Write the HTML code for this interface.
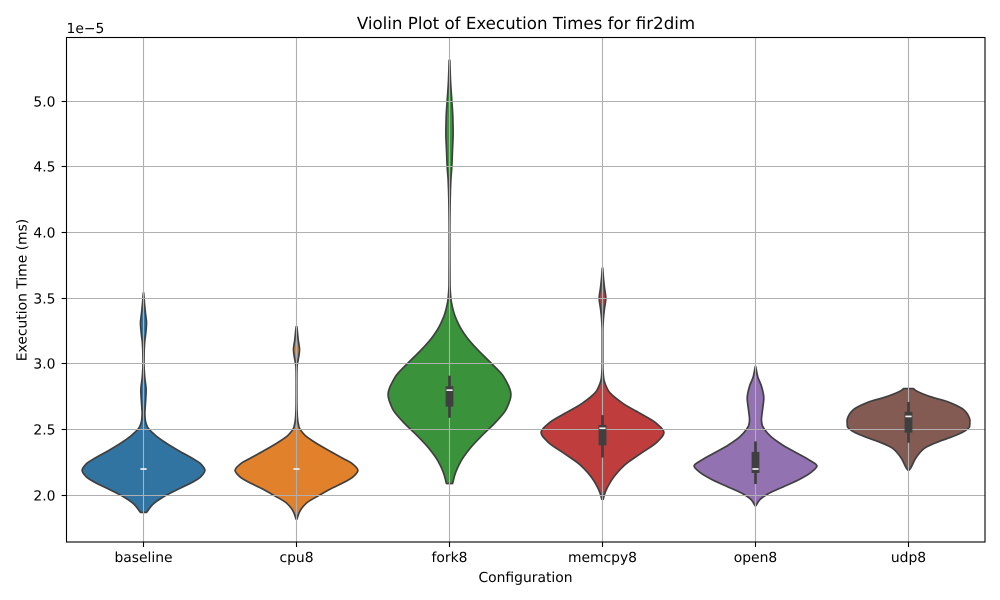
<!DOCTYPE html>
<html lang="en">
<head>
<meta charset="utf-8">
<title>Violin Plot of Execution Times for fir2dim</title>
<style>
html,body{margin:0;padding:0;background:#fff;}
svg{display:block;}
text{font-family:"DejaVu Sans","Liberation Sans",sans-serif;fill:#000;text-rendering:geometricPrecision;}
</style>
</head>
<body>
<svg id="chart" width="1000" height="600" viewBox="0 0 1000 600" xmlns="http://www.w3.org/2000/svg">
  <rect x="0" y="0" width="1000" height="600" fill="#ffffff"></rect>
  <g id="violins"></g>
  <g id="grid"></g>
  <g id="boxes"></g>
  <rect x="66.5" y="37.5" width="918.5" height="504.5" fill="none" stroke="#000" stroke-width="1.1"></rect>
  <g id="ticks"></g>
  <text x="526" y="29" font-size="16.67" text-anchor="middle">Violin Plot of Execution Times for fir2dim</text>
  <text x="525.5" y="582" font-size="13.89" text-anchor="middle">Configuration</text>
  <text transform="translate(26.5,290) rotate(-90)" font-size="13.89" text-anchor="middle">Execution Time (ms)</text>
  <text x="66.5" y="33" font-size="13.89">1e−5</text>
</svg>
<script>
const categories = ['baseline', 'cpu8', 'fork8', 'memcpy8', 'open8', 'udp8'];
const yTickValues = [2.0, 2.5, 3.0, 3.5, 4.0, 4.5, 5.0];
const yTickLabels = ['2.0', '2.5', '3.0', '3.5', '4.0', '4.5', '5.0'];
const colors = ['#3274a1', '#e1812c', '#3a923a', '#c03d3e', '#9372b2', '#845b53'];

// Execution time levels (x 1e-5 ms), top to bottom, and relative density (% of widest point)
const baselineTimes = [3.54,3.46,3.386,3.31,3.23,3.16,3.08,3.0,2.9,2.8,2.7,2.62,2.57,2.52,2.46,2.4,2.34,2.28,2.24,2.19,2.14,2.1,2.05,1.99,1.93,1.87];
const baselineDensity = [0.3,1.6,3.2,4.9,3.6,1.8,1,0.8,2,4.3,3.2,2.2,3,6.5,18.5,36,57,80,93,100,93,80,58,33,15,5];
const cpu8Times = [3.284,3.26,3.18,3.107,3.03,2.98,2.88,2.7,2.6,2.52,2.46,2.4,2.34,2.28,2.24,2.19,2.14,2.1,2.05,2.0,1.94,1.875,1.817];
const cpu8Density = [0.5,1.1,2.9,4.9,2.7,0.9,0.5,0.6,1.3,4,13,31,53,76,91,100,92,78,56,37,16,5,0.5];
const fork8Times = [5.31,5.16,5.0,4.88,4.754,4.63,4.5,4.4,4.25,4.0,3.6,3.5,3.4,3.3,3.2,3.1,3.0,2.9,2.764,2.66,2.56,2.46,2.36,2.26,2.16,2.09];
const fork8Density = [0.5,1.6,3.8,5.4,5.9,4.9,3.8,2.2,1.1,0.5,0.8,2.2,6.5,15,28.5,47.5,69,88.5,100,93,76,54,34,18.7,9,5];
const memcpy8Times = [3.73,3.65,3.58,3.5,3.42,3.34,3.25,3.0,2.9,2.8,2.7,2.624,2.55,2.477,2.41,2.32,2.23,2.117,2.015,1.97];
const memcpy8Density = [0.3,1.6,3.2,5.4,3.2,1.4,0.5,0.5,1.6,9,33,61,87,100,90,63,36,15,3.8,1.1];
const open8Times = [2.98,2.9,2.83,2.74,2.65,2.574,2.535,2.5,2.447,2.38,2.32,2.27,2.223,2.18,2.117,2.066,2.01,1.964,1.92];
const open8Density = [0.3,3.8,9.7,13.5,11.4,9.7,10.8,15,25,45,68,87,100,92,70,46,20,6.5,0.5];
const udp8Times = [2.812,2.8,2.75,2.713,2.65,2.61,2.57,2.523,2.485,2.44,2.41,2.358,2.28,2.205,2.19];
const udp8Density = [8,11,36,63,90,97,100,99.5,90,68,50,26,11.4,3.2,0.5];

// Box-plot statistics per configuration (x 1e-5 ms)
const whiskerLow = [2.2, 2.2, 2.59, 2.287, 2.086, 2.4];
const quartile1 = [2.2, 2.2, 2.675, 2.38, 2.17, 2.477];
const medians = [2.2, 2.2, 2.8, 2.51, 2.2, 2.6];
const quartile3 = [2.2, 2.2, 2.83, 2.535, 2.33, 2.635];
const whiskerHigh = [2.2, 2.2, 2.91, 2.61, 2.41, 2.71];

const allTimes = [baselineTimes, cpu8Times, fork8Times, memcpy8Times, open8Times, udp8Times];
const allDensity = [baselineDensity, cpu8Density, fork8Density, memcpy8Density, open8Density, udp8Density];

const NS = 'http://www.w3.org/2000/svg';
function xScale(i) { return 67 + 153 * (i + 0.5); }
function yScale(v) { return 495.3 - (v - 2) * 131.43; }
function snap(p) { return Math.floor(p) + 0.5; }
function widthScale(d) { return d / 100 * 61.4; }
function make(tag, attrs, parent) {
  const el = document.createElementNS(NS, tag);
  for (const k in attrs) el.setAttribute(k, attrs[k]);
  parent.appendChild(el);
  return el;
}
// Monotone cubic through points, treating x as a function of y, so outlines stay smooth
function smooth(pts) {
  const n = pts.length;
  const h = [], s = [], m = [];
  for (let i = 0; i < n - 1; i++) {
    h[i] = pts[i + 1][1] - pts[i][1];
    s[i] = (pts[i + 1][0] - pts[i][0]) / h[i];
  }
  m[0] = s[0];
  m[n - 1] = s[n - 2];
  for (let i = 1; i < n - 1; i++) {
    if (s[i - 1] * s[i] <= 0) { m[i] = 0; continue; }
    const w1 = 2 * h[i] + h[i - 1], w2 = h[i] + 2 * h[i - 1];
    m[i] = (w1 + w2) / (w1 / s[i - 1] + w2 / s[i]);
  }
  let d = '';
  for (let i = 0; i < n - 1; i++) {
    const p1 = pts[i], p2 = pts[i + 1], t = h[i] / 3;
    d += 'C' + (p1[0] + m[i] * t).toFixed(2) + ' ' + (p1[1] + t).toFixed(2) + ' ' +
         (p2[0] - m[i + 1] * t).toFixed(2) + ' ' + (p2[1] - t).toFixed(2) + ' ' +
         p2[0].toFixed(2) + ' ' + p2[1].toFixed(2);
  }
  return d;
}

const violinsG = document.getElementById('violins');
const gridG = document.getElementById('grid');
const boxesG = document.getElementById('boxes');
const ticksG = document.getElementById('ticks');

categories.forEach(function (cat, i) {
  const cx = xScale(i);
  const times = allTimes[i], dens = allDensity[i];
  const left = times.map(function (t, k) { return [cx - widthScale(dens[k]), yScale(t)]; });
  const right = times.map(function (t, k) { return [cx + widthScale(dens[k]), yScale(t)]; }).reverse();
  const d = 'M' + left[0][0].toFixed(2) + ' ' + left[0][1].toFixed(2) + smooth(left) +
            'L' + right[0][0].toFixed(2) + ' ' + right[0][1].toFixed(2) + smooth(right) + 'Z';
  const violin = make('path', { d: d, fill: colors[i], stroke: '#3f3f3f', 'stroke-width': 1.7, 'stroke-linejoin': 'round' }, violinsG);
  
  

  const vGrid = make('line', { x1: cx, x2: cx, y1: 37.5, y2: 542, stroke: '#b0b0b0', 'stroke-width': 1.1 }, gridG);
  
  

  const whisker = make('line', { x1: cx, x2: cx, y1: yScale(whiskerLow[i]), y2: yScale(whiskerHigh[i]), stroke: '#3f3f3f', 'stroke-width': 2.7 }, boxesG);
  
  

  const box = make('rect', { x: cx - 3.9, width: 7.8, y: yScale(quartile3[i]), height: yScale(quartile1[i]) - yScale(quartile3[i]), fill: '#3f3f3f' }, boxesG);
  
  

  const median = make('line', { x1: cx - 3.1, x2: cx + 3.1, y1: yScale(medians[i]), y2: yScale(medians[i]), stroke: '#f2f2f2', 'stroke-width': 1.7 }, boxesG);
  
  

  const tick = make('line', { x1: cx, x2: cx, y1: 542, y2: 547, stroke: '#000', 'stroke-width': 1.1 }, ticksG);
  
  

  const label = make('text', { x: cx, y: 562, 'font-size': 13.89, 'text-anchor': 'middle' }, ticksG);
  label.textContent = cat;
  
  
});

yTickValues.forEach(function (v, i) {
  const y = snap(yScale(v));
  const hGrid = make('line', { x1: 66.5, x2: 985, y1: y, y2: y, stroke: '#b0b0b0', 'stroke-width': 1.1 }, gridG);
  
  

  const tick = make('line', { x1: 61.6, x2: 66.5, y1: y, y2: y, stroke: '#000', 'stroke-width': 1.1 }, ticksG);
  
  

  const label = make('text', { x: 55.5, y: y + 5, 'font-size': 13.89, 'text-anchor': 'end' }, ticksG);
  label.textContent = yTickLabels[i];
  
  
});
</script>
</body>
</html>
